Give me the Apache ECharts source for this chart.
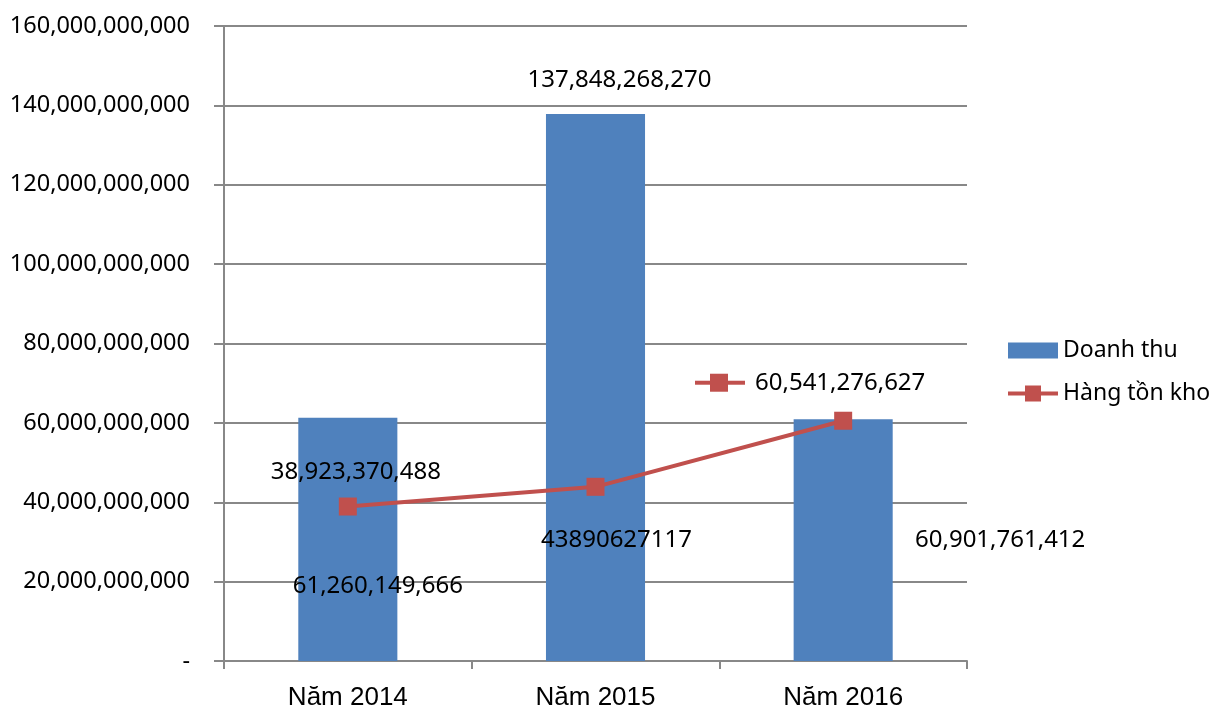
<!DOCTYPE html>
<html>
<head>
<meta charset="utf-8">
<script src="https://cdn.jsdelivr.net/npm/echarts@6/dist/echarts.min.js"></script>
<style>html,body{margin:0;padding:0;background:#fff}#c{width:1211px;height:713px}</style>
</head>
<body>
<div id="c"></div>
<script>
const categories = ['Năm 2014', 'Năm 2015', 'Năm 2016'];
const revenue = [61260149666, 137848268270, 60901761412];
const inventory = [38923370488, 43890627117, 60541276627];
const inventoryGrouped = [true, false, true];
const yTicks = { min: 0, max: 160000000000, interval: 20000000000 };
const seriesNames = ['Doanh thu', 'Hàng tồn kho'];

const BLUE = '#4F81BD', RED = '#C0504D', GRAY = '#888888';
const FONT = 'Noto Sans';
const fmt = v => v.toLocaleString('en-US');

const barLabelOffsets = [[30, 47], [24, -307], [157, 0]];
const lineLabelOffsets = [[8, -34], [21, 53], [-33, -38]];

const chart = echarts.init(document.getElementById('c'));
chart.setOption({
  animation: false,
  grid: { left: 224, right: 244, top: 26, bottom: 52 },
  legend: {
    orient: 'vertical', left: 1003, top: 334,
    itemWidth: 50, itemHeight: 16, itemGap: 20, symbolKeepAspect: false,
    textStyle: { fontFamily: FONT, fontSize: 23, color: '#000' },
    data: [
      { name: seriesNames[0], icon: 'rect' },
      { name: seriesNames[1], icon: 'path://M0,6H17V0H33V6H50V10H33V16H17V10H0Z' }
    ]
  },
  xAxis: {
    type: 'category', data: categories,
    axisLine: { lineStyle: { color: GRAY, width: 2 } },
    axisTick: { show: true, length: 8, lineStyle: { color: GRAY, width: 2 } },
    axisLabel: { fontFamily: 'Liberation Sans', fontSize: 26, color: '#000', margin: 24 }
  },
  yAxis: {
    type: 'value', min: yTicks.min, max: yTicks.max, interval: yTicks.interval,
    axisLine: { show: true, lineStyle: { color: GRAY, width: 2 } },
    axisTick: { show: true, length: 10, lineStyle: { color: GRAY, width: 2 } },
    splitLine: { lineStyle: { color: GRAY, width: 2 } },
    axisLabel: {
      fontFamily: FONT, fontSize: 23.5, color: '#000', margin: 34,
      formatter: v => v === 0 ? '-' : fmt(v)
    }
  },
  series: [
    {
      name: seriesNames[0], type: 'bar', barWidth: '40%',
      itemStyle: { color: BLUE },
      data: revenue.map((v, i) => ({
        value: v,
        label: {
          show: true, position: 'inside', offset: barLabelOffsets[i],
          fontFamily: FONT, fontSize: 24, color: '#000',
          formatter: p => fmt(p.value)
        }
      }))
    },
    {
      name: seriesNames[1], type: 'line', symbol: 'rect', symbolSize: 18, z: 5,
      lineStyle: { color: RED, width: 4 },
      itemStyle: { color: RED },
      data: inventory.map((v, i) => ({
        value: v,
        label: {
          show: true, position: 'inside', offset: lineLabelOffsets[i],
          fontFamily: FONT, fontSize: 24, color: '#000',
          formatter: p => {
            const t = inventoryGrouped[p.dataIndex] ? fmt(p.value) : String(p.value);
            return i === 2 ? '{l| }{s| }{r| }{g| }' + t : t;
          },
          rich: {
            l: { width: 15, height: 4, backgroundColor: RED, verticalAlign: 'middle' },
            s: { width: 18, height: 18, backgroundColor: RED, verticalAlign: 'middle' },
            r: { width: 17, height: 4, backgroundColor: RED, verticalAlign: 'middle' },
            g: { width: 10, height: 4, verticalAlign: 'middle' }
          }
        }
      }))
    }
  ]
});
</script>
</body>
</html>
